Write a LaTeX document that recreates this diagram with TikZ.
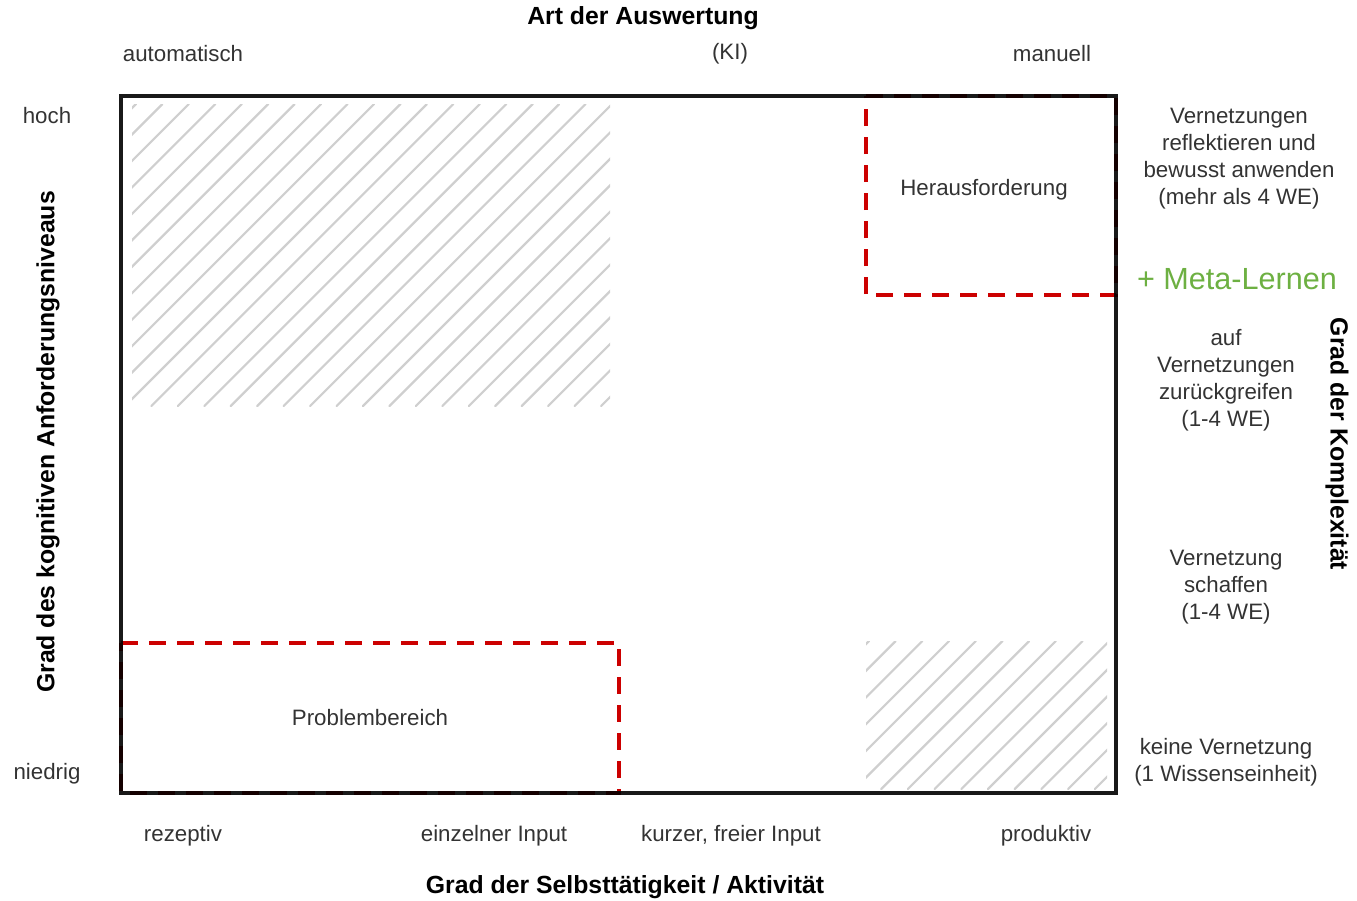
\documentclass[tikz,border=0pt]{standalone}
\usepackage{fontspec}
\setmainfont{Liberation Sans}
\definecolor{txt}{HTML}{333333}
\definecolor{hatch}{HTML}{CFCFCF}
\definecolor{zone}{HTML}{CC0000}
\definecolor{meta}{HTML}{6DB042}
\begin{document}
\begin{tikzpicture}[x=1pt,y=-1pt,
  lbl/.style={text=txt,font=\fontsize{22.3}{27}\selectfont,align=center,inner sep=0pt},
  ttl/.style={text=black,font=\fontsize{24.8}{29}\selectfont\bfseries,inner sep=0pt},
  hatchline/.style={draw=hatch,line width=2.2pt,line cap=round},
  zoneline/.style={draw=zone,line width=4pt,dash pattern=on 17pt off 11pt},
  frameline/.style={draw=black,line width=3.5pt}]
\useasboundingbox (0,0) rectangle (1357,900);

% hatched area, upper left
\begin{scope}
  \clip (132,104) rectangle (610,406);
  \foreach \k in {0,...,30} {
    \pgfmathsetmacro\c{240+26.45*\k}
    \draw[hatchline] (\c-406,406) -- (\c-104,104);
  }
\end{scope}

% hatched area, lower right
\begin{scope}
  \clip (866,641) rectangle (1107,789);
  \foreach \k in {0,...,16} {
    \pgfmathsetmacro\c{1510+26.7*\k}
    \draw[hatchline] (\c-789,789) -- (\c-641,641);
  }
\end{scope}

% highlighted zones
\draw[zoneline] (866,96) -- (1116,96) -- (1116,295) -- (866,295) -- cycle;
\draw[zoneline] (121,643) -- (619,643) -- (619,793) -- (121,793) -- cycle;

% chart frame
\draw[frameline,draw opacity=0.9] (121,96) rectangle (1116,793);

% zone labels
\node[lbl] (herausf) at (984,190) {Herausforderung};
\node[lbl] (problem) at (370,718) {Problembereich};

% top axis
\node[ttl] (topttl) at (643,18) {Art der Auswertung};
\node[lbl] (automat) at (183,54) {automatisch};
\node[lbl] (ki) at (730,54) {(KI)};
\node[lbl] (manuell) at (1052,54) {manuell};

% left axis
\node[lbl] (hoch) at (47,116) {hoch};
\node[lbl] (niedrig) at (47,774) {niedrig};
\node[ttl,rotate=90] (leftttl) at (48,442) {Grad des kognitiven Anforderungsniveaus};

% bottom axis
\node[lbl] (rezeptiv) at (183,836) {rezeptiv};
\node[lbl] (einzeln) at (494,836) {einzelner Input};
\node[lbl] (kurz) at (731,836) {kurzer, freier Input};
\node[lbl] (produktiv) at (1046,836) {produktiv};
\node[ttl] (bottomttl) at (625,887) {Grad der Selbsttätigkeit / Aktivität};

% right axis
\node[lbl] (lvl4) at (1239,159) {Vernetzungen\\reflektieren und\\bewusst anwenden\\(mehr als 4 WE)};
\node[text=meta,font=\fontsize{30.6}{34}\selectfont,inner sep=0pt] (meta) at (1237,279) {+ Meta-Lernen};
\node[lbl] (lvl3) at (1226,380) {auf\\Vernetzungen\\zurückgreifen\\(1-4 WE)};
\node[lbl] (lvl2) at (1226,587) {Vernetzung\\schaffen\\(1-4 WE)};
\node[lbl] (lvl1) at (1226,762) {keine Vernetzung\\(1 Wissenseinheit)};
\node[ttl,rotate=-90] (rightttl) at (1337,444) {Grad der Komplexität};
\end{tikzpicture}
\end{document}
